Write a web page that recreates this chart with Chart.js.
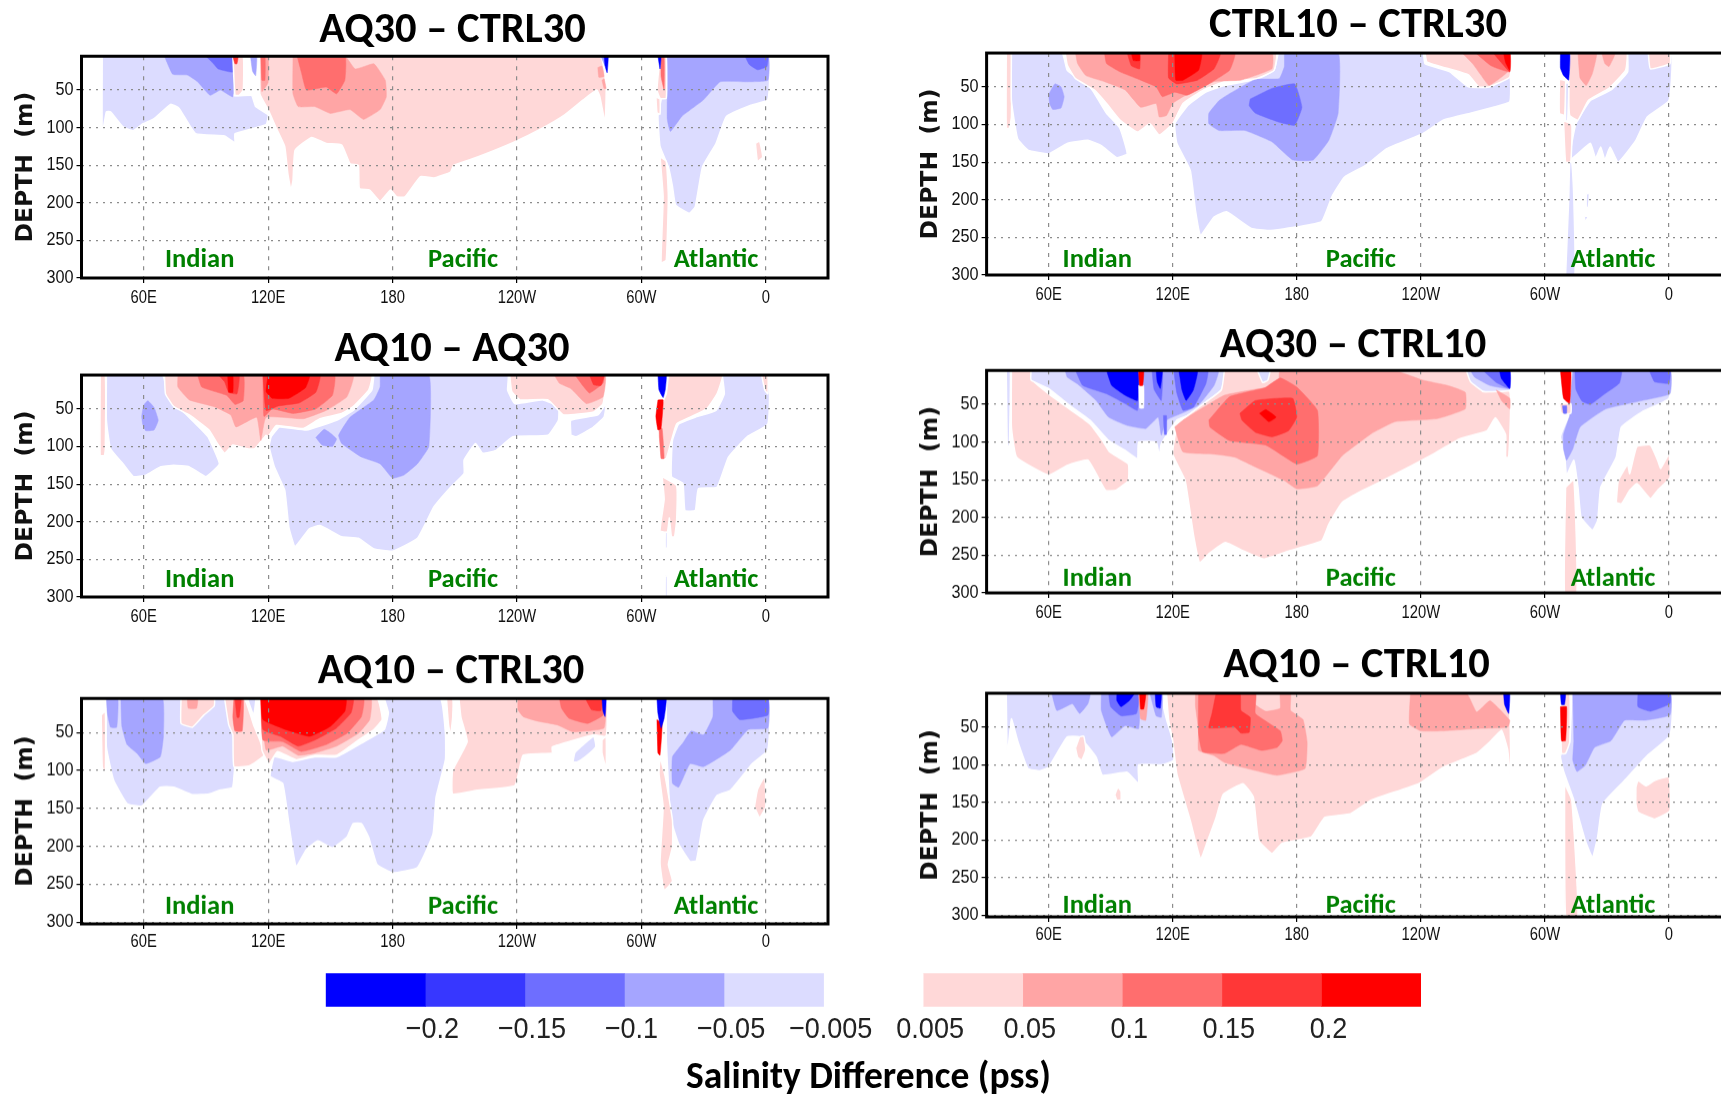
<!DOCTYPE html>
<html>
<head>
<meta charset="utf-8">
<title>Salinity Difference</title>
<script src="https://cdn.jsdelivr.net/npm/chart.js@4"></script>
<style>
html, body { margin: 0; padding: 0; background: #fff; width: 1721px; height: 1094px; overflow: hidden; }
canvas { position: absolute; filter: blur(0.5px); }
</style>
</head>
<body>
<script>
// axes
const lonTicks = [60, 120, 180, 240, 300, 360];
const lonLabels = ["60E", "120E", "180", "120W", "60W", "0"];
const depthTicks = [50, 100, 150, 200, 250, 300];
const oceanNames = ["Indian", "Pacific", "Atlantic"];

// colour key
const keyLabels = ["\u22120.2", "\u22120.15", "\u22120.1", "\u22120.05", "\u22120.005", "0.005", "0.05", "0.1", "0.15", "0.2"];
const keyCells = [-5, -4, -3, -2, -1, 0, 1, 2, 3, 4, 5];
const blues = ["#0000ff", "#3737ff", "#6e6eff", "#a5a5ff", "#dcdcff"];
const reds = ["#ffd8d8", "#ffa5a5", "#ff6e6e", "#ff3737", "#ff0000"];

// each shape: contour level (-5..5, 0 = inside the white band) and its outline as lon, depth, lon, depth...
const shapesAq30Ctrl30 = [
  [-1, [40,5, 103,5, 103,57, 112,57, 114,72, 120,83, 119,96, 104,108, 104,120, 99,111, 85,108, 77,74, 73,69, 65,88, 59,96, 55,104, 50,99, 44,79, 42,79, 40,108]],
  [-2, [70,5, 103,5, 103,59, 97,50, 92,57, 86,39, 81,30, 74,29]],
  [-3, [90,5, 103,5, 103,26, 96,22, 93,13]],
  [0, [108,5, 111.5,5, 112,57, 110,57]],
  [1, [103,5, 108,5, 108,50, 106,57, 104,57]],
  [4, [103,5, 105.5,5, 105,15, 104,15]],
  [-2, [111.5,5, 114.5,5, 114,31, 112.5,25]],
  [1, [116,5, 116,55, 120,76, 124,101, 128,125, 129.5,161, 131,183, 132,170, 133,130, 141,113, 148,121, 155.5,123, 159.5,148, 163.5,150, 164,181, 169,183, 174,198, 179,183, 182,192, 186,192, 193.5,165, 200,167, 208,159, 209.5,150, 221,139, 238,120, 252,101, 263,83, 272,63, 278.5,50, 280,59, 282.5,93, 283,46, 280,5]],
  [2, [132,5, 157,5, 162,22, 171,15, 176.5,37, 177,59, 174,76, 166,89, 159.5,76, 150,81, 142.5,72, 134.5,72, 132,55]],
  [3, [134,5, 157,5, 157,37, 153,55, 148,46, 138.5,50, 136,26]],
  [2, [116.5,5, 120,5, 120,40, 117,52]],
  [3, [116.5,5, 118.5,5, 118.5,37, 117,37]],
  [2, [279,20, 281,18, 282,32, 279.5,33]],
  [2, [281,37, 282,35, 283,48, 282,48]],
  [-2, [280.5,5, 282,5, 282.5,18]],
  [-5, [282,5, 284,5, 283.5,27, 282.5,18]],
  [-1, [312,5, 361,5, 361,63, 353,70, 341,85, 336,121, 329.5,152, 326,205, 323,214, 316.5,203, 315,178, 313,152, 309,125, 308,85, 309.5,63]],
  [-2, [312,5, 361,5, 361,37, 351,39, 338,39, 330,63, 319.5,85, 314,105, 312.5,89, 312.5,50]],
  [-3, [350,5, 361,5, 360.5,19, 356,23, 352,16]],
  [1, [309,5, 312,5, 312,61, 309,61, 307.5,50]],
  [3, [309.5,5, 311,5, 311,50, 309.5,32]],
  [-5, [308,5, 309.5,5, 309,22]],
  [1, [307,59, 309,62, 309,82, 307.5,80]],
  [1, [309,139, 312,145, 313,192, 312,276, 309.5,280, 310.5,192]],
  [1, [355,121, 357,118, 358.5,139, 356,145]]
];

const shapesAq10Aq30 = [
  [1, [39,5, 41.5,5, 41.5,100, 41,112, 39,112]],
  [-1, [42,5, 69,5, 72,34, 80,56, 88,78, 91,87, 96.5,123, 90,140, 82,127, 74.5,125, 68,127, 61,138, 55,140, 50,123, 44,103, 42,65]],
  [-2, [59,60, 60,45, 62,39, 65,48, 67,65, 65,78, 61,79, 59.5,70]],
  [-1, [171,5, 170,25, 161,52, 153,65, 138.5,78, 125.5,74, 121.5,87, 120.5,100, 123,127, 128,158, 130,207, 133,233, 140,209, 145,205, 155.5,220, 163.5,222, 171,236, 180,239, 192,222, 200,180, 208,154, 214.5,136, 214.5,118, 220,96, 223.5,109, 230,105, 238,87, 255,85, 260,65, 260,47, 252.5,38, 239,43, 235.5,25, 235.5,5]],
  [-2, [174,5, 197.5,5, 197.5,100, 192,123, 185.5,138, 180,142, 174,123, 165,114, 155.5,96, 154,85, 159.5,61, 171,38, 174,21]],
  [-2, [143,88, 147,77, 150,82, 153,90, 151,100, 146,98]],
  [1, [70,5, 170,5, 168.5,25, 161,47, 155.5,56, 145,63, 137,76, 124,72, 120,87, 119,85, 113.5,103, 110,103, 103,98, 99,109, 95.5,96, 91.5,78, 82,58, 74.5,47, 70.5,30]],
  [2, [76.5,5, 161,5, 158,34, 148,52, 137,63, 119,61, 116.5,92, 114.5,61, 104.5,74, 102,58, 94,47, 82,38, 76.5,21]],
  [3, [86,5, 108,5, 108,39, 104,44, 100,32, 88,21]],
  [3, [117.5,5, 152,5, 151,32, 143,50, 132,56, 122,50, 118,60]],
  [4, [96,5, 106,5, 105,30, 101,28, 99,14]],
  [4, [117.5,5, 145,5, 143,28, 135,42, 125,46, 119,52]],
  [5, [100.5,5, 103,5, 103,28, 101,28]],
  [5, [120,5, 140,5, 138,22, 130,36, 122,36, 119,27]],
  [1, [236.5,5, 282.5,5, 281.5,43, 277,54, 262.5,58, 255,38, 241.5,38, 237.5,27]],
  [2, [258,5, 282.5,5, 281.5,34, 273.5,43, 266,23, 260.5,16]],
  [3, [268,5, 282,5, 281.5,16, 275,29, 272,20]],
  [4, [275,5, 282,5, 280.5,19, 277,18]],
  [-1, [266,85, 266,65, 279,58, 283,43, 282,61, 276,76, 268.5,87]],
  [-1, [339,5, 361,5, 361,70, 351,87, 342,114, 336.5,154, 327.5,156, 326,185, 321,185, 320,149, 314.5,140, 315,92, 318,70, 326,61, 336,52, 340,30]],
  [1, [358,5, 361,5, 361,30, 359.5,25]],
  [1, [313,5, 339,5, 336.5,30, 331.5,50, 323.5,61, 317,70, 314.5,92, 312,116, 310,116, 308,87, 310,43, 312,30]],
  [1, [310,140, 317,152, 317,198, 316,220, 314.5,220, 313.5,195, 312.5,214, 309,212, 311,170]],
  [3, [308.5,76, 310,76, 311,116, 309.5,116]],
  [5, [308,38, 310.5,38, 309.5,76, 308,78, 307,60]],
  [-5, [308,5, 312,5, 311.5,25, 310.5,35, 308.5,25]],
  [-1, [311.5,214, 312.5,214, 312.5,235, 311.5,235]],
  [-1, [311.5,272, 312.5,272, 312.5,300, 311.5,300]]
];

const shapesAq10Ctrl30 = [
  [1, [39.5,27, 41.5,22, 41.5,104, 40,95]],
  [-1, [42,5, 103,5, 103,122, 96.5,126, 91.5,131, 83.5,132, 74.5,122, 68,122, 59,147, 52,144, 45.5,113, 42,69]],
  [-2, [42,5, 47.5,5, 47,43, 44,43, 42.5,25]],
  [-2, [49,5, 69,5, 69.5,55, 68,82, 61,91, 57,78, 52,66, 49.5,42]],
  [1, [78,5, 94,5, 94,15, 89,27, 83.5,43, 78,38]],
  [2, [81,5, 86,5, 85.5,18, 81.5,18]],
  [1, [99,5, 108.5,5, 113,40, 116,60, 118,80, 111,94, 103.5,95, 103,53, 101,40]],
  [3, [103.5,5, 108,5, 107.5,48, 104,48, 103,30]],
  [4, [104,5, 107,5, 106,30, 105,30]],
  [-1, [110,5, 114,5, 113,27]],
  [-1, [176,5, 203,5, 205.5,51, 205.5,86, 201,135, 199.5,184, 192,228, 180,235, 172.5,224, 168.5,188, 165,170, 161,170, 158,188, 151,202, 144,193, 138.5,204, 133.5,227, 130,170, 127,117, 121,108, 123,82, 132,88, 142.5,82, 153,82, 165,64, 176,46, 178,24]],
  [1, [116,5, 172.5,5, 175,33, 171,46, 163.5,60, 153,80, 142.5,80, 133.5,86, 124.5,75, 120.5,91, 117,73]],
  [2, [116.5,5, 169.5,5, 169,33, 163.5,51, 153,68, 142.5,77, 134.5,80, 127,68, 119,73]],
  [3, [116.5,5, 166,5, 165,29, 158,51, 148,66, 136,75, 127,62, 117.5,60]],
  [4, [116.5,5, 161,5, 160,24, 153,44, 142.5,60, 134.5,68, 126,55, 117.5,46]],
  [5, [116.5,5, 157.5,5, 157,22, 150,42, 140,55, 129.5,47, 117.5,33]],
  [1, [206,5, 209,5, 209,30, 208,53, 207,40]],
  [1, [212,5, 282.5,5, 283,55, 277,53, 257,69, 257,77, 243,80, 239,120, 221,126, 209,131, 209,100, 216,62, 213,30]],
  [2, [240.5,5, 282,5, 282,44, 267,49, 259.5,40, 250,35, 243,29, 240.5,20]],
  [3, [260.5,5, 282,5, 281.5,27, 274,38, 265,31, 261.5,18]],
  [4, [273,5, 281,5, 280.5,21, 276,20]],
  [-5, [281,5, 283,5, 282.5,29, 281.5,22]],
  [-1, [267,89, 268,76, 277,55, 278,69, 273,82, 269,89]],
  [1, [281,60, 283,55, 283,97, 281,77]],
  [-1, [312,5, 361,5, 361,73, 353.5,91, 343,126, 336.5,133, 330,166, 326.5,219, 323.5,220, 318,197, 314,162, 313,117, 312,60, 312,30]],
  [-2, [334.5,5, 361,5, 361,44, 351.5,46, 343,73, 330,95, 323.5,91, 318,122, 315,117, 315,82, 320,64, 324,48, 330,53, 334.5,29]],
  [-3, [344,5, 361,5, 361,27, 347.5,33, 344,22]],
  [1, [309,82, 311.5,108, 315,166, 315,201, 313,224, 315,246, 311,258, 309,222, 310.5,148, 308.5,104]],
  [5, [307.5,33, 310,38, 309,80, 308,77]],
  [-5, [307.5,5, 312,5, 311,31, 309.5,44, 308,25]],
  [1, [354.5,148, 356,125, 359.5,108, 360,148, 357,162]]
];

const shapesCtrl10Ctrl30 = [
  [1, [39.5,5, 42,5, 42,90, 41,105, 39.5,105]],
  [-1, [42,5, 66.5,5, 69,28, 80.5,52, 88,85, 94.5,105, 98,139, 93,144, 85.5,128, 79,121, 69,125, 60,139, 50,134, 45,119, 42,68]],
  [-2, [60,60, 63,46, 66,50, 67.5,63, 66,78, 62,80, 60.5,72]],
  [-1, [171,5, 169,28, 160.5,40, 145,48, 136,57, 127.5,74, 121,99, 122,125, 128.5,161, 131,214, 133.5,247, 140,223, 146,216, 158,238, 166.5,241, 180.5,236, 192,229, 197,196, 203,170, 213.5,154, 223.5,132, 241,112, 251,94, 264,85, 275,77, 283,70, 283,37, 273,50, 263,50, 254,30, 242,19, 241,5]],
  [-2, [174,5, 200,5, 200,85, 195.5,121, 188,147, 178,147, 168,123, 155,108, 142.5,108, 137.5,99, 137.5,85, 142.5,68, 147.5,59, 160,40, 171.5,39, 174,23]],
  [-3, [157.5,66, 168,52, 179,46, 182.5,77, 179,101, 171.5,97, 160,85, 157,75]],
  [1, [68,5, 170,5, 169,28, 160.5,39, 145,43, 135,54, 125,72, 120,99, 113.5,114, 109,99, 103,110, 94.5,94, 88,72, 82,54, 73,39, 69,21]],
  [2, [73,5, 168,5, 168,26, 153,41, 140,43, 125,63, 120,72, 117,88, 113.5,90, 112,72, 104.5,77, 97,54, 87,43, 78,35, 74,19]],
  [3, [87,5, 150,5, 147.5,28, 137.5,46, 127,61, 121,57, 115,63, 112,50, 104.5,41, 94.5,30, 88,19]],
  [4, [98,5, 104,5, 104,26, 100,22]],
  [4, [118,5, 143,5, 140,26, 132,41, 122,46, 118,38]],
  [5, [100,5, 104,5, 104,15, 101,15]],
  [5, [121,5, 134,5, 132.5,28, 125,41, 121.5,41]],
  [1, [242,5, 283,5, 283,37, 273,50, 268,50, 263,34, 243,17]],
  [2, [260,5, 283,5, 282,30, 273,48, 269,34, 265,19]],
  [3, [266.5,5, 283,5, 283,30, 274,22]],
  [4, [275,5, 283,5, 283,30, 279,18]],
  [5, [280,5, 283,5, 283,28, 281,18]],
  [-1, [340,5, 361,5, 360,68, 349.5,90, 344,121, 335.5,150, 331.5,130, 329,147, 327,130, 324.5,145, 322,125, 312,147, 315,99, 322,68, 332,54, 340,30]],
  [1, [350,5, 360.5,5, 360.5,19, 351,26]],
  [1, [312,5, 339.5,5, 339,28, 331,52, 321,68, 316,94, 312,88, 311.5,46]],
  [2, [316,5, 325,5, 323,32, 320,48, 317,38]],
  [2, [327.5,5, 334,5, 331,23, 329,19]],
  [1, [307,40, 310,42, 309.5,88, 307,85]],
  [1, [309,95, 313,100, 312.5,150, 310,150]],
  [-1, [310,45, 311.5,45, 311,95, 310,95]],
  [-5, [307.5,5, 312,5, 311.5,41, 309,35, 307.5,25]],
  [-1, [310,300, 311.5,200, 312,150, 313,150, 314,200, 314.5,300]],
  [-1, [320,192, 321.5,192, 321,210, 320,210]],
  [-1, [319,222, 321,222, 319.5,229]]
];

const shapesAq30Ctrl10 = [
  [-1, [39.5,5, 41.5,5, 41,105, 40,105]],
  [1, [42,5, 51.5,5, 53,20, 60,36, 71,58, 80,76, 86,98, 89.5,113, 98.5,129, 98.5,151, 92.5,164, 87.5,164, 79,124, 69,131, 60,144, 44.5,120, 42,80]],
  [-1, [51.5,5, 145,5, 143.5,31, 137,45, 127,65, 122,71, 114.5,102, 113.5,118, 112,100, 103.5,100, 103,122, 97,111, 89,98, 80,71, 69,49, 60,29, 51.5,18]],
  [-2, [68,5, 142,5, 140,25, 132.5,51, 126,60, 117,71, 114.5,91, 113,67, 107,82, 98,78, 89,67, 83,45, 74,23, 69,14]],
  [-3, [73,5, 103,5, 103,58, 97,49, 88,36, 76.5,25]],
  [-3, [110,5, 115,5, 114.5,45, 111,30]],
  [-3, [120.5,5, 137,5, 136,23, 130,54, 125,58, 122,35]],
  [-5, [88,5, 103,5, 103,45, 97,38, 90.5,25]],
  [-5, [112,5, 115,5, 114,29, 112.5,20]],
  [-5, [123,5, 132,5, 130,31, 126.5,45, 124.5,31]],
  [-3, [115.5,65, 117,65, 117,90, 116,90]],
  [0, [103.5,25, 106,25, 106,55, 104,55]],
  [5, [103.5,5, 106,5, 105.5,25, 104,25]],
  [1, [145,5, 262,5, 270,33, 283,33, 282.5,120, 281,120, 281,90, 276,68, 272,85, 258.5,96, 246,116, 224.5,147, 212,164, 202,180, 195.5,209, 192,231, 176.5,244, 164,255, 154,244, 145.5,233, 137.5,248, 133,260, 130,222, 126,151, 120,116, 122.5,76, 132.5,54, 143.5,31]],
  [2, [121,80, 125,113, 140,116, 150,120, 160,133, 174,151, 180,162, 190,158, 202,118, 216,89, 227.5,73, 248,69, 261.5,56, 261.5,34, 253,25, 241,18, 227,5, 172,5, 171,25, 160,30, 145,38, 132.5,58, 125,71]],
  [3, [137.5,71, 147.5,40, 164.5,28, 172,15, 180,27, 190,58, 190,118, 180,129, 165,104, 147.5,98, 138,80]],
  [4, [152.5,62, 160,45, 178,42, 180,67, 176,85, 168,93, 160,87, 153.5,71]],
  [5, [162,62, 165,57, 170,67, 166.5,73]],
  [-1, [161,5, 167,5, 166,18, 163.5,21]],
  [-1, [262,5, 283,5, 283,31, 270.5,33, 264,20]],
  [-2, [264,5, 283,5, 283,29, 273.5,25, 266,14]],
  [-3, [270,5, 283,5, 283,29, 276.5,21]],
  [-5, [278,5, 283,5, 283,29, 279,16]],
  [2, [276.5,31, 283,42, 283,56, 279,45]],
  [-1, [313.5,5, 361,5, 360,42, 347,60, 337,80, 334.5,120, 327,160, 325.5,204, 323,217, 317.5,200, 316,160, 314,124, 310.5,144, 309.5,116, 307.5,93, 310,75, 312.5,60]],
  [-2, [313.5,5, 360.5,5, 360.5,36, 347,45, 329.5,56, 317,80, 313.5,109, 310.5,124, 309,109, 309,90, 312,65, 312.5,40]],
  [-3, [314.5,5, 337,5, 336,22, 329,36, 322,50, 318,46, 315,30]],
  [-3, [350.5,5, 360.5,5, 360,22, 353,20]],
  [1, [307,49, 312.5,49, 312.5,62, 308,62]],
  [5, [307.5,5, 312.5,5, 312,49, 309,42]],
  [-3, [308.5,52, 310.5,52, 310.5,62, 309,62]],
  [1, [310,160, 314,150, 315.5,300, 309.5,300]],
  [1, [334.5,180, 335.5,151, 340,130, 341,142, 344.5,106, 351,104, 354.5,124, 356,135, 360,116, 360.5,147, 354.5,164, 351,175, 344.5,155, 341,164, 337,182]]
];

const shapesAq10Ctrl10 = [
  [-1, [39.5,5, 113,5, 117,40, 120,68, 120.5,94, 115,100, 103.5,100, 103.5,125, 98,110, 86,114, 83,90, 75,63, 69,63, 60,103, 56,108, 50,105, 45,68, 42,39, 40,88]],
  [-2, [61.5,5, 80,5, 79,19, 75,32, 71.5,19, 64,28]],
  [-2, [85.5,5, 103.5,5, 103.5,52, 97,48, 90.5,63, 85.5,28]],
  [-3, [89,5, 103.5,5, 102.5,32, 95,35, 90,23]],
  [-5, [93,5, 101.5,5, 99,15, 95,23, 93,15]],
  [-2, [109,5, 115,5, 114.5,37, 112,35]],
  [-5, [111.5,5, 114.5,5, 114,25, 112,23]],
  [2, [103.5,5, 108,5, 107,41, 104.5,39]],
  [5, [104,5, 107,5, 106,26, 104.5,26]],
  [1, [73,78, 75,63, 77,62, 78,80, 76,94, 74,90]],
  [1, [92,140, 93.5,130, 95,135, 95,147, 93,147]],
  [1, [117,5, 280,5, 283,32, 283.5,121, 282,80, 279,54, 274,68, 267,85, 251,103, 239,125, 216,147, 206,165, 193.5,170, 187,196, 173,204, 168,218, 161.5,200, 159,143, 154,125, 144.5,139, 141,170, 137,200, 133.5,225, 128.5,174, 122,112, 120,68, 118,40]],
  [2, [131,5, 160,5, 160,20, 165,29, 172,25, 172,5, 177,5, 177,28, 183,40, 185,70, 184,105, 170.5,114, 160.5,108, 145,97, 140,88, 132.5,81, 132.5,54, 131,22]],
  [3, [132.5,5, 160,5, 160,32, 172,55, 173,68, 170.5,77, 163,81, 153,73, 145,85, 134.5,83, 132.5,59]],
  [4, [141,5, 152.5,5, 153,28, 157.5,37, 157,57, 153,58, 150,50, 137.5,51, 139,32]],
  [2, [235,5, 262,5, 267,30, 273.5,15, 283,41, 282,50, 267,52, 251,55, 240,55, 234.5,46]],
  [-5, [280,5, 283,5, 282.5,32, 280.5,20]],
  [-1, [313,5, 361,5, 360.5,61, 349.5,88, 338.5,121, 328,152, 325.5,196, 323,223, 319.5,200, 314,147, 309,108, 307.5,88, 312,70]],
  [-2, [313.5,5, 360.5,5, 360.5,34, 348.5,41, 338.5,41, 332,68, 324,77, 319.5,101, 315.5,109, 313.5,94, 314,68]],
  [-3, [345,5, 360.5,5, 360.5,19, 351,29, 345,23]],
  [1, [307.5,5, 312,5, 312,70, 310,85, 308,85]],
  [5, [307.5,23, 310.5,23, 310,68, 308,68]],
  [-5, [307.5,5, 310,5, 309.5,20, 308,20]],
  [1, [309.5,125, 313,147, 316,300, 310,300]],
  [1, [344,130, 345,121, 349,128, 353,121, 360,116, 360.5,161, 353,172, 345,163, 344,152]]
];

// where each panel sits on the page, in page pixels
const panels = [
  { title: "AQ30 \u2013 CTRL30", shapes: shapesAq30Ctrl30, pageLeft: 0, titleX: 452.5, titleY: 31, top: 56, bottom: 278, depthMax: 300, oceanLons: [87, 214, 336], oceanDepth: 276 },
  { title: "AQ10 \u2013 AQ30", shapes: shapesAq10Aq30, pageLeft: 0, titleX: 452, titleY: 350, top: 374.8, bottom: 597, depthMax: 300, oceanLons: [87, 214, 336], oceanDepth: 277.5 },
  { title: "AQ10 \u2013 CTRL30", shapes: shapesAq10Ctrl30, pageLeft: 0, titleX: 451, titleY: 672, top: 698, bottom: 923.5, depthMax: 302.4, oceanLons: [87, 214, 336], oceanDepth: 280 },
  { title: "CTRL10 \u2013 CTRL30", shapes: shapesCtrl10Ctrl30, pageLeft: 900, titleX: 1358, titleY: 26, top: 52.8, bottom: 275, depthMax: 300, oceanLons: [83.5, 211, 333], oceanDepth: 280 },
  { title: "AQ30 \u2013 CTRL10", shapes: shapesAq30Ctrl10, pageLeft: 900, titleX: 1353, titleY: 346, top: 370, bottom: 592.7, depthMax: 300, oceanLons: [83.5, 211, 333], oceanDepth: 282 },
  { title: "AQ10 \u2013 CTRL10", shapes: shapesAq10Ctrl10, pageLeft: 900, titleX: 1356.5, titleY: 666, top: 692.8, bottom: 916.5, depthMax: 302, oceanLons: [83.5, 211, 333], oceanDepth: 288 }
];

const tickFont = "'Liberation Sans', sans-serif";
const titleFont = "'Carlito', 'Liberation Sans', sans-serif";
const titleSize = 42.5;

function levelColor(level) {
  if (level === 0) return "#ffffff";
  return level < 0 ? blues[level + 5] : reds[level - 1];
}

function toPoints(flat) {
  const points = [];
  for (let i = 0; i < flat.length; i += 2) {
    points.push({ x: flat[i], y: flat[i + 1] });
  }
  points.push({ x: flat[0], y: flat[1] });
  return points;
}

// the tick text of the reference is tall and narrow, no condensed font is installed
function drawNarrowText(ctx, text, x, y, align, squeeze) {
  ctx.save();
  ctx.translate(x, y);
  ctx.scale(squeeze, 1);
  ctx.textAlign = align;
  ctx.textBaseline = "middle";
  ctx.fillText(text, 0, 0);
  ctx.restore();
}

// thick box round the plot
const framePlugin = {
  id: "frame",
  afterDraw(chart) {
    const a = chart.chartArea;
    const ctx = chart.ctx;
    ctx.save();
    ctx.strokeStyle = "#000";
    ctx.lineWidth = 3;
    ctx.strokeRect(a.left, a.top, a.right - a.left, a.bottom - a.top);
    ctx.restore();
  }
};

// lon and depth tick labels, placed through the scales
const tickTextPlugin = {
  id: "tickText",
  afterDraw(chart, args, opts) {
    const ctx = chart.ctx;
    const x = chart.scales.x;
    const y = chart.scales.y;
    ctx.save();
    ctx.fillStyle = "#111";
    ctx.font = "18px " + tickFont;
    lonTicks.forEach((lon, i) => {
      drawNarrowText(ctx, lonLabels[i], x.getPixelForValue(lon), x.top + opts.labelGap, "center", 0.82);
    });
    depthTicks.forEach((depth) => {
      drawNarrowText(ctx, String(depth), x.left - 8, y.getPixelForValue(depth), "right", 0.9);
    });
    ctx.restore();
  }
};

// Indian / Pacific / Atlantic, placed through the scales
const oceanPlugin = {
  id: "oceanNames",
  afterDatasetsDraw(chart, args, opts) {
    const ctx = chart.ctx;
    ctx.save();
    ctx.fillStyle = "#008000";
    ctx.font = "bold 26.5px " + titleFont;
    ctx.textAlign = "center";
    ctx.textBaseline = "middle";
    oceanNames.forEach((name, i) => {
      ctx.fillText(name, chart.scales.x.getPixelForValue(opts.lons[i]), chart.scales.y.getPixelForValue(opts.depth));
    });
    ctx.restore();
  }
};

// labels of the colour key sit just right of the cell edges
const keyTextPlugin = {
  id: "keyText",
  afterDraw(chart) {
    const ctx = chart.ctx;
    const x = chart.scales.x;
    ctx.save();
    ctx.fillStyle = "#222";
    ctx.font = "30px " + tickFont;
    keyLabels.forEach((label, i) => {
      drawNarrowText(ctx, label, x.getPixelForValue(i + 1) + 7, x.top + 23, "center", 0.9);
    });
    ctx.restore();
  }
};

function addCanvas(left, top, width, height) {
  const canvas = document.createElement("canvas");
  canvas.style.left = left + "px";
  canvas.style.top = top + "px";
  canvas.style.width = width + "px";
  canvas.style.height = height + "px";
  canvas.width = width;
  canvas.height = height;
  document.body.appendChild(canvas);
  return canvas;
}

function drawPanel(panel) {
  const isRight = panel.pageLeft > 0;
  const axisHeight = 36;
  const canvasTop = panel.titleY - titleSize / 2;
  const canvasWidth = Math.round((panel.titleX - panel.pageLeft) * 2);
  const canvasHeight = panel.bottom + axisHeight - canvasTop;
  const plotLeft = isRight ? 986.6 : 81.5;
  const plotRight = isRight ? 1731 : 828;

  const canvas = addCanvas(panel.pageLeft, canvasTop, canvasWidth, canvasHeight);

  // later shapes lie on top, and chart.js paints the first dataset last
  const datasets = panel.shapes.map(([level, outline]) => ({
    data: toPoints(outline),
    showLine: true,
    fill: "shape",
    tension: 0.12,
    pointRadius: 0,
    backgroundColor: levelColor(level),
    borderColor: Math.abs(level) === 1 ? "#ffffff" : levelColor(level),
    borderWidth: Math.abs(level) === 1 ? 1.5 : 0.5
  })).reverse();

  new Chart(canvas, {
    type: "scatter",
    data: { datasets: datasets },
    plugins: [framePlugin, oceanPlugin, tickTextPlugin],
    options: {
      responsive: false,
      animation: false,
      layout: { autoPadding: false, padding: 0 },
      plugins: {
        legend: { display: false },
        tooltip: { enabled: false },
        title: {
          display: true,
          text: panel.title,
          color: "#000",
          fullSize: true,
          font: { family: titleFont, size: titleSize, weight: "bold", lineHeight: 1 },
          padding: { top: 0, bottom: panel.top - panel.titleY - titleSize / 2 }
        },
        oceanNames: { lons: panel.oceanLons, depth: panel.oceanDepth },
        tickText: { labelGap: panel.depthMax > 300 ? 18.5 : 20.5 }
      },
      scales: {
        x: {
          type: "linear",
          min: 30,
          max: 390,
          afterBuildTicks: (scale) => { scale.ticks = lonTicks.map((v) => ({ value: v })); },
          afterFit: (scale) => { scale.height = axisHeight; },
          ticks: { display: false },
          grid: { z: 1, color: "#8c8c8c", lineWidth: 1.2, tickColor: "#000", tickLength: 5, tickBorderDash: [] },
          border: { display: false, dash: [4, 6] }
        },
        y: {
          type: "linear",
          reverse: true,
          min: 5,
          max: panel.depthMax,
          afterBuildTicks: (scale) => { scale.ticks = depthTicks.map((v) => ({ value: v })); },
          afterFit: (scale) => { scale.width = plotLeft - panel.pageLeft; },
          title: {
            display: true,
            text: "DEPTH  (m)",
            color: "#111",
            font: { family: "'DejaVu Sans', sans-serif", size: 23.5, weight: "bold", lineHeight: 1.2 },
            padding: { top: isRight ? 17 : 12, bottom: 0 }
          },
          ticks: { display: false },
          grid: { z: 1, color: "#8c8c8c", lineWidth: 1.2, tickColor: "#000", tickLength: 5, tickBorderDash: [] },
          border: { display: false, dash: [2, 5] }
        },
        // empty axis keeps the plot's right edge in place while the title centres on the whole canvas
        rightGap: {
          type: "linear",
          axis: "y",
          position: "right",
          afterFit: (scale) => { scale.width = canvasWidth - (plotRight - panel.pageLeft); },
          ticks: { display: false },
          grid: { display: false },
          border: { display: false }
        }
      }
    }
  });
}

function drawKey() {
  // left edge picked so the bottom title centres where the reference has it
  const canvas = addCanvas(316, 960, 1105, 141);
  new Chart(canvas, {
    type: "bar",
    data: {
      labels: ["pss"],
      datasets: keyCells.map((level) => ({
        data: [1],
        stack: "key",
        backgroundColor: levelColor(level),
        barPercentage: 1,
        categoryPercentage: 1
      }))
    },
    plugins: [keyTextPlugin],
    options: {
      indexAxis: "y",
      responsive: false,
      animation: false,
      layout: { autoPadding: false, padding: { left: 0, right: 0, top: 13.3, bottom: 0 } },
      plugins: {
        legend: { display: false },
        tooltip: { enabled: false },
        title: {
          display: true,
          position: "bottom",
          text: "Salinity Difference (pss)",
          color: "#000",
          fullSize: true,
          font: { family: titleFont, size: 37.5, weight: "bold", lineHeight: 1.2 },
          padding: { top: 0, bottom: 0 }
        }
      },
      scales: {
        x: {
          type: "linear",
          stacked: true,
          min: 0,
          max: keyCells.length,
          afterFit: (scale) => { scale.height = 49.3; },
          grid: { display: false },
          border: { display: false },
          ticks: { display: false }
        },
        y: {
          stacked: true,
          afterFit: (scale) => { scale.width = 9.7; },
          ticks: { display: false },
          grid: { display: false },
          border: { display: false }
        }
      }
    }
  });
}

panels.forEach(drawPanel);
drawKey();
</script>
</body>
</html>
